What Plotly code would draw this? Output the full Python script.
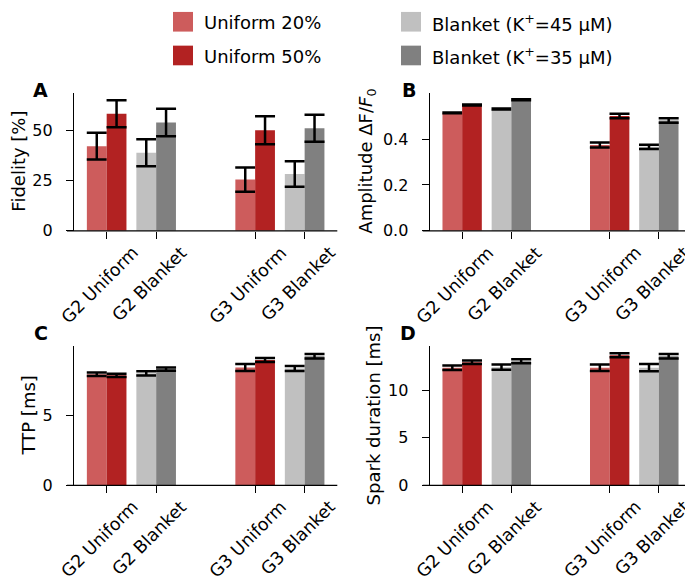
import plotly.graph_objects as go

# ---------------- data ----------------
group_labels = ["G2 Uniform", "G2 Blanket", "G3 Uniform", "G3 Blanket"]
group_pos = [0, 1, 3, 4]
uniform_pos = [0, 3]   # G2 Uniform, G3 Uniform
blanket_pos = [1, 4]   # G2 Blanket, G3 Blanket

series_names = ["Uniform 20%", "Uniform 50%",
                "Blanket (K<sup>+</sup>=45 μM)", "Blanket (K<sup>+</sup>=35 μM)"]
series_colors = ["#cd5c5c", "#b22222", "#c0c0c0", "#808080"]

# Fidelity [%]
fid_u20 = [42.0, 25.4];  fid_u20_err = [6.6, 6.0]
fid_u50 = [58.1, 49.9];  fid_u50_err = [6.7, 6.9]
fid_b45 = [38.7, 28.2];  fid_b45_err = [6.7, 6.3]
fid_b35 = [53.7, 50.9];  fid_b35_err = [6.8, 6.7]

# Amplitude dF/F0
amp_u20 = [0.514, 0.374];  amp_u20_err = [0.002, 0.011]
amp_u50 = [0.548, 0.500];  amp_u50_err = [0.002, 0.010]
amp_b45 = [0.531, 0.366];  amp_b45_err = [0.002, 0.009]
amp_b35 = [0.571, 0.481];  amp_b35_err = [0.002, 0.010]

# TTP [ms]
ttp_u20 = [8.00, 8.48];  ttp_u20_err = [0.13, 0.25]
ttp_u50 = [7.92, 9.02];  ttp_u50_err = [0.12, 0.15]
ttp_b45 = [8.06, 8.41];  ttp_b45_err = [0.16, 0.18]
ttp_b35 = [8.37, 9.29];  ttp_b35_err = [0.12, 0.17]

# Spark duration [ms]
dur_u20 = [12.36, 12.36];  dur_u20_err = [0.24, 0.34]
dur_u50 = [12.93, 13.67];  dur_u50_err = [0.19, 0.21]
dur_b45 = [12.42, 12.36];  dur_b45_err = [0.28, 0.38]
dur_b35 = [13.05, 13.56];  dur_b35_err = [0.21, 0.24]

panels = [
    dict(letter="A", ylabel="Fidelity [%]",
         series=[(fid_u20, fid_u20_err), (fid_u50, fid_u50_err), (fid_b45, fid_b45_err), (fid_b35, fid_b35_err)],
         yrange=[0, 68.6], ticks=[0, 25, 50], fmt=None),
    dict(letter="B", ylabel="Amplitude ΔF/<i>F</i><sub>0</sub>",
         series=[(amp_u20, amp_u20_err), (amp_u50, amp_u50_err), (amp_b45, amp_b45_err), (amp_b35, amp_b35_err)],
         yrange=[0, 0.6026], ticks=[0.0, 0.2, 0.4], fmt=".1f"),
    dict(letter="C", ylabel="TTP [ms]",
         series=[(ttp_u20, ttp_u20_err), (ttp_u50, ttp_u50_err), (ttp_b45, ttp_b45_err), (ttp_b35, ttp_b35_err)],
         yrange=[0, 10.0], ticks=[0, 5], fmt=None),
    dict(letter="D", ylabel="Spark duration [ms]",
         series=[(dur_u20, dur_u20_err), (dur_u50, dur_u50_err), (dur_b45, dur_b45_err), (dur_b35, dur_b35_err)],
         yrange=[0, 14.6], ticks=[0, 5, 10], fmt=None),
]

# ---------------- layout geometry ----------------
W, H = 693, 583
FONT = "DejaVu Sans"
xdoms_px = [(66, 329.3), (421.7, 683.3), (66, 329.3), (421.7, 683.3)]
ydoms_px = [(86, 226.7), (86, 226.7), (344.3, 485.7), (344.3, 485.7)]
letter_pos = [(32.5, 83.5), (400.5, 83.5), (32.5, 330.5), (400, 331)]
ylabel_x = [11, 359, 20.5, 365.5]
xlabel_top = [243, 243, 501.7, 501.7]

def px_x(v):
    return v / W

def px_y(v):
    return 1 - v / H

fig = go.Figure()
layout = dict(width=W, height=H, margin=dict(l=0, r=0, t=0, b=0),
              paper_bgcolor="white", plot_bgcolor="white", showlegend=False,
              barmode="overlay", font=dict(family=FONT, color="black"))
shapes = []
annotations = []

offsets = [-0.4, 0.0, -0.4, 0.0]
positions = [uniform_pos, uniform_pos, blanket_pos, blanket_pos]

for i, p in enumerate(panels):
    n = "" if i == 0 else str(i + 1)
    xa, ya = "x" + n, "y" + n
    for s, (vals, errs) in enumerate(p["series"]):
        fig.add_trace(go.Bar(
            x=positions[s], y=vals, name=series_names[s],
            offset=offsets[s], width=0.4,
            marker=dict(color=series_colors[s], line=dict(width=0)),
            error_y=dict(type="data", array=errs, color="black", thickness=2.5, width=10),
            xaxis=xa, yaxis=ya,
        ))
    x0, x1 = xdoms_px[i]
    y0, y1 = ydoms_px[i]
    layout["xaxis" + n] = dict(
        domain=[px_x(x0), px_x(x1)], range=[-0.66, 4.66], anchor=ya,
        tickvals=group_pos, showticklabels=False, ticks="outside", ticklen=7,
        tickwidth=1.3, tickcolor="black", showline=False, showgrid=False, zeroline=False)
    yax = dict(
        domain=[px_y(y1), px_y(y0)], range=p["yrange"], anchor=xa,
        tickvals=p["ticks"], ticks="outside", ticklen=7, tickwidth=1.3, tickcolor="black",
        showline=True, linecolor="black", linewidth=1.3, showgrid=False, zeroline=False,
        tickfont=dict(family=FONT, size=16, color="black"), ticklabelstandoff=10)
    if p["fmt"]:
        yax["tickformat"] = p["fmt"]
    layout["yaxis" + n] = yax
    # x axis spine, extending slightly left of the y axis
    shapes.append(dict(type="line", xref=xa + " domain", yref=ya + " domain",
                       x0=-7 / (x1 - x0), x1=1, y0=0, y1=0,
                       line=dict(color="black", width=1.3)))
    # rotated category labels
    for gp, gl in zip(group_pos, group_labels):
        annotations.append(dict(x=gp, xref=xa, y=px_y(xlabel_top[i]), yref="paper",
                                text=gl, textangle=-45, showarrow=False,
                                xanchor="center", yanchor="top", xshift=-7, yshift=7,
                                font=dict(family=FONT, size=17.5, color="black")))
    # y axis title
    annotations.append(dict(x=px_x(ylabel_x[i]), y=px_y((y0 + y1) / 2), xref="paper", yref="paper",
                            text=p["ylabel"], textangle=-90, showarrow=False,
                            xanchor="center", yanchor="middle",
                            font=dict(family=FONT, size=18, color="black")))
    # panel letter
    lx, ly = letter_pos[i]
    annotations.append(dict(x=px_x(lx), y=px_y(ly), xref="paper", yref="paper",
                            text="<b>" + p["letter"] + "</b>", showarrow=False,
                            xanchor="center", yanchor="middle",
                            font=dict(family=FONT, size=19, color="black")))

# ---------------- legend (two columns) ----------------
leg_swatch_x = [165, 165, 393, 393]
leg_text_x = [194, 194, 422, 422]
leg_row_y = [14, 48.3, 14, 48.3]
for s in range(4):
    sx, ty = leg_swatch_x[s], leg_row_y[s]
    shapes.append(dict(type="rect", xref="paper", yref="paper",
                       x0=px_x(sx), x1=px_x(sx + 20), y0=px_y(ty - 10), y1=px_y(ty + 10),
                       fillcolor=series_colors[s], line=dict(width=0)))
    annotations.append(dict(x=px_x(leg_text_x[s]), y=px_y(ty + 1), xref="paper", yref="paper",
                            text=series_names[s], showarrow=False, xanchor="left", yanchor="middle",
                            font=dict(family=FONT, size=18, color="black")))

layout["shapes"] = shapes
layout["annotations"] = annotations
fig.update_layout(**layout)
fig.write_html("out.html")
